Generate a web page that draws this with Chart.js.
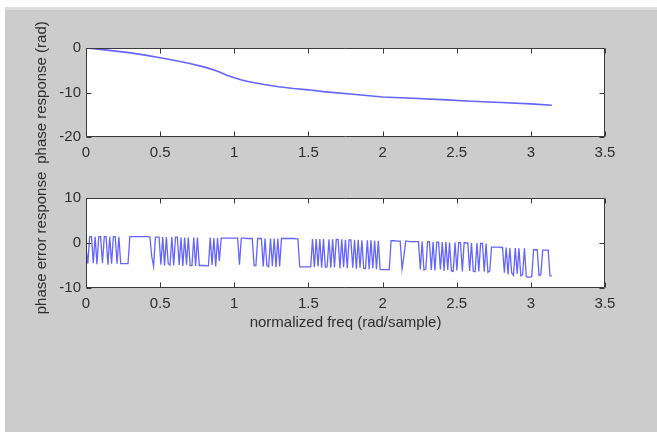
<!DOCTYPE html>
<html><head><meta charset="utf-8">
<script src="https://cdn.jsdelivr.net/npm/chart.js@4"></script>
<style>
html,body{margin:0;padding:0;background:#fff;width:657px;height:432px;overflow:hidden}
#bg{position:absolute;left:5px;top:7px;width:652px;height:425px;background:#cccccc;border-top:3px solid #dedede;box-sizing:border-box}
canvas{position:absolute;left:0}
</style></head><body>
<div id="bg"></div>
<canvas id="c1" width="657" height="170" style="top:0"></canvas>
<canvas id="c2" width="657" height="180" style="top:170px"></canvas>
<script>
// ---- data ----
const freqTop = [0,0.1,0.2,0.3,0.4,0.5,0.6,0.7,0.8,0.85,0.9,0.95,1.0,1.05,1.1,1.2,1.3,1.4,1.5,1.6,1.8,2.0,2.2,2.4,2.6,2.8,3.0,3.1416];
const phaseResp = [0,-0.3,-0.7,-1.1,-1.6,-2.2,-2.8,-3.5,-4.3,-4.8,-5.4,-6.1,-6.7,-7.2,-7.6,-8.2,-8.7,-9.1,-9.4,-9.8,-10.4,-11.0,-11.3,-11.6,-11.95,-12.25,-12.55,-12.85];

// phase error, sampled on 256 equally spaced frequencies from 0 to pi (16 per row)
const errPhase = [
-1.0,-4.6,1.4,1.4,-4.5,1.4,-4.7,1.4,1.4,-4.5,1.4,1.4,-4.8,1.4,-4.6,1.4,
1.4,-4.6,1.4,-4.6,-4.6,-4.6,-4.6,-4.6,1.4,1.4,1.4,1.4,1.4,1.4,1.4,1.4,
1.4,1.4,1.4,1.3,-3.0,-5.2,1.3,1.3,1.3,-4.8,1.3,-5.0,1.3,-4.6,-4.9,1.3,
-5.0,1.3,1.3,-4.9,1.2,-5.1,1.2,-4.8,1.2,-5.0,-5.0,1.2,-5.1,1.2,-5.0,-5.0,
-5.0,-5.0,-5.1,-5.1,1.2,-4.9,1.1,-5.2,1.1,-4.0,1.1,1.1,1.1,1.1,1.1,1.1,
1.1,1.1,1.1,1.1,-4.8,1.1,1.1,1.1,1.0,1.0,1.0,1.0,-5.0,-5.0,1.0,1.0,
1.0,-5.2,1.0,-5.0,-5.3,1.0,-5.1,1.0,-5.4,1.0,-5.2,1.0,1.0,1.0,1.0,1.0,
1.0,1.0,1.0,0.9,0.9,-5.3,-5.3,-5.3,-5.3,-5.3,-5.3,-5.3,0.9,-5.4,0.9,-5.2,
0.9,-5.5,0.9,-5.4,-5.3,0.8,-5.5,0.8,-5.4,0.8,0.8,-5.6,0.8,-5.4,0.7,-5.6,
0.7,0.7,-5.5,0.7,-5.7,0.7,-5.5,0.6,-5.6,-5.7,0.6,-5.8,0.6,-5.6,0.5,-5.8,
0.5,-5.9,-5.9,-5.9,-5.9,-5.9,-5.9,0.5,0.5,0.5,0.4,0.4,0.4,-5.8,-3.0,0.4,
0.4,0.3,0.3,0.3,0.3,0.3,0.3,-5.9,0.3,-6.0,-5.8,0.3,0.3,-6.0,0.2,-6.1,
0.2,0.2,-5.9,0.2,-6.2,0.2,-6.0,0.1,-6.2,-6.3,0.1,-6.1,0.1,0.1,-6.3,0.1,
0.0,0.0,-6.2,0.0,-6.3,-6.4,0.0,-6.3,-0.1,-0.1,-6.4,-0.1,-6.5,-6.2,-0.9,-0.9,
-0.9,-0.9,-0.9,-1.0,-1.0,-6.6,-1.0,-7.0,-1.1,-6.6,-7.2,-1.1,-6.8,-1.2,-7.3,-7.0,
-1.2,-7.5,-7.6,-7.6,-7.5,-1.5,-1.5,-1.5,-7.2,-7.0,-1.6,-1.6,-1.6,-1.6,-7.3,-7.3];
// sample grid: 0 .. pi
const errFreq = errPhase.map((_, k) => k * Math.PI / (errPhase.length - 1));

const xTicks = [0,0.5,1,1.5,2,2.5,3,3.5];
const xTickLabels = ['0','0.5','1','1.5','2','2.5','3','3.5'];
const yTicksTop = [-20,-10,0];
const yTicksBottom = [-10,0,10];

// ---- style ----
const FONT = {family:"'Liberation Sans', Arial, sans-serif", size:15};
const TXT = '#2e2e2e';
const LINE = 'rgba(40,40,255,0.72)';

const matlabBox = {
  id:'matlabBox',
  beforeDraw(chart){
    const a = chart.chartArea, c = chart.ctx;
    c.save(); c.fillStyle = '#fff';
    c.fillRect(a.left, a.top, a.right-a.left, a.bottom-a.top);
    c.restore();
  },
  afterDatasetsDraw(chart){
    const a = chart.chartArea, c = chart.ctx, xs = chart.scales.x, ys = chart.scales.y;
    const L = Math.round(a.left)+0.5, R = Math.round(a.right)-0.5, T = Math.round(a.top)+0.5, B = Math.round(a.bottom)-0.5;
    c.save(); c.strokeStyle = '#3a3a3a'; c.lineWidth = 1;
    c.beginPath(); c.rect(L, T, R-L, B-T);
    xs.ticks.forEach(t => { const p = Math.round(xs.getPixelForValue(t.value))+0.5;
      c.moveTo(p, T); c.lineTo(p, T+5); c.moveTo(p, B); c.lineTo(p, B-5); });
    ys.ticks.forEach(t => { const p = Math.round(ys.getPixelForValue(t.value))+0.5;
      c.moveTo(L, p); c.lineTo(L+5, p); c.moveTo(R, p); c.lineTo(R-5, p); });
    c.stroke(); c.restore();
  }
};

function xScale(height, title){
  return {
    type:'linear', min:0, max:3.5,
    afterBuildTicks: s => { s.ticks = xTicks.map(v => ({value:v})); },
    afterFit: s => { s.height = height; },
    grid:{display:false, drawTicks:false, tickLength:0}, border:{display:false},
    ticks:{padding:7, maxRotation:0, autoSkip:false, font:FONT, color:TXT, callback:(v,i)=>xTickLabels[i]},
    title: title ? {display:true, text:title, font:FONT, color:TXT, padding:{top:0,bottom:18}} : {display:false}
  };
}
function yScale(min, max, ticks, title){
  return {
    min, max,
    afterBuildTicks: s => { s.ticks = ticks.map(v => ({value:v})); },
    afterFit: s => { s.width = 86; },
    grid:{display:false, drawTicks:false, tickLength:0}, border:{display:false},
    ticks:{padding:5, font:FONT, color:TXT, callback:v=>String(v)},
    title:{display:true, text:title, font:FONT, color:TXT, padding:{top:33,bottom:0}}
  };
}

new Chart(document.getElementById('c1'), {
  type:'line',
  data:{datasets:[{data:freqTop.map((x,i)=>({x, y:phaseResp[i]})), borderColor:LINE, borderWidth:1.6, pointRadius:0, tension:0, fill:false}]},
  options:{
    responsive:false, animation:false, events:[],
    layout:{padding:{top:48, right:52, left:0, bottom:0}},
    plugins:{legend:{display:false}, tooltip:{enabled:false}},
    scales:{ x:xScale(33, null), y:yScale(-20, 0, yTicksTop, 'phase response (rad)') }
  },
  plugins:[matlabBox]
});

new Chart(document.getElementById('c2'), {
  type:'line',
  data:{datasets:[{data:errFreq.map((x,i)=>({x, y:errPhase[i]})), borderColor:LINE, borderWidth:1.3, pointRadius:0, tension:0, fill:false}]},
  options:{
    responsive:false, animation:false, events:[],
    layout:{padding:{top:28, right:52, left:0, bottom:0}},
    plugins:{legend:{display:false}, tooltip:{enabled:false}},
    scales:{ x:xScale(62, 'normalized freq (rad/sample)'), y:yScale(-10, 10, yTicksBottom, 'phase error response') }
  },
  plugins:[matlabBox]
});
</script>
</body></html>
